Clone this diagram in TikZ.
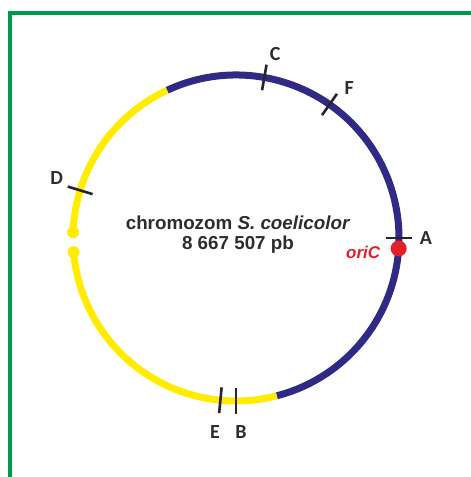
\documentclass[tikz,border=0pt]{standalone}
\usepackage{fontspec}
\setmainfont{Liberation Sans}
\newfontfamily\labelfont{Carlito}
\usetikzlibrary{arrows.meta,positioning}
\definecolor{frame}{RGB}{0,152,74}
\definecolor{navy}{RGB}{46,42,133}
\definecolor{chromyellow}{RGB}{255,236,0}
\definecolor{oricred}{RGB}{227,32,42}
\definecolor{txtgray}{RGB}{45,45,45}

\begin{document}
\begin{tikzpicture}[
  x=1pt, y=1pt,
  every node/.style={font=\bfseries, text=txtgray},
  framelines/.style={draw=frame, line width=4pt},
  chromarc/.style={line width=7pt, line cap=butt},
  gapdot/.style={fill=chromyellow},
  locus/.style={draw=black!85, line width=2.6pt},
  locuslabel/.style={font=\labelfont\bfseries\fontsize{20}{22}\selectfont},
]
\useasboundingbox (0,0) rectangle (471,477);

\draw[framelines] (10,0) -- (10,464) -- (471,464);

\begin{scope}[shift={(236,239)}]
  % chromosome arcs
  \draw[chromarc, navy] (115:163) arc[start angle=115, end angle=-75.5, radius=163];
  \draw[chromarc, chromyellow] (115:163) arc[start angle=115, end angle=178, radius=163];
  \draw[chromarc, chromyellow] (185:163) arc[start angle=185, end angle=284.5, radius=163];
  \fill[gapdot] (178:163) circle[radius=6];
  \fill[gapdot] (185:163) circle[radius=6];

  % loci
  \foreach \ang/\lang/\rad/\name in {80/78/188/C, 55/53/188/F, 0/0/190/A,
                                   163/161.5/189/D, 264.5/263.8/195/E, 270/271.5/194/B}{
    \draw[locus] (\ang:150) -- (\ang:176);
    \node[locuslabel] (lbl\name) at (\lang:\rad) {\name};
  }

  \fill[oricred] (-3.7:163) circle[radius=8] coordinate (ori);
  \node[font=\bfseries\itshape\fontsize{17}{20}\selectfont, text=oricred,
        left=15pt of ori, yshift=-4pt] (oric) {oriC};

  \node[align=center, font=\bfseries\fontsize{18.8}{20.5}\selectfont] (title) at (2,3.5)
    {chromozom \textit{S. coelicolor}\\8 667 507 pb};
\end{scope}
\end{tikzpicture}
\end{document}
